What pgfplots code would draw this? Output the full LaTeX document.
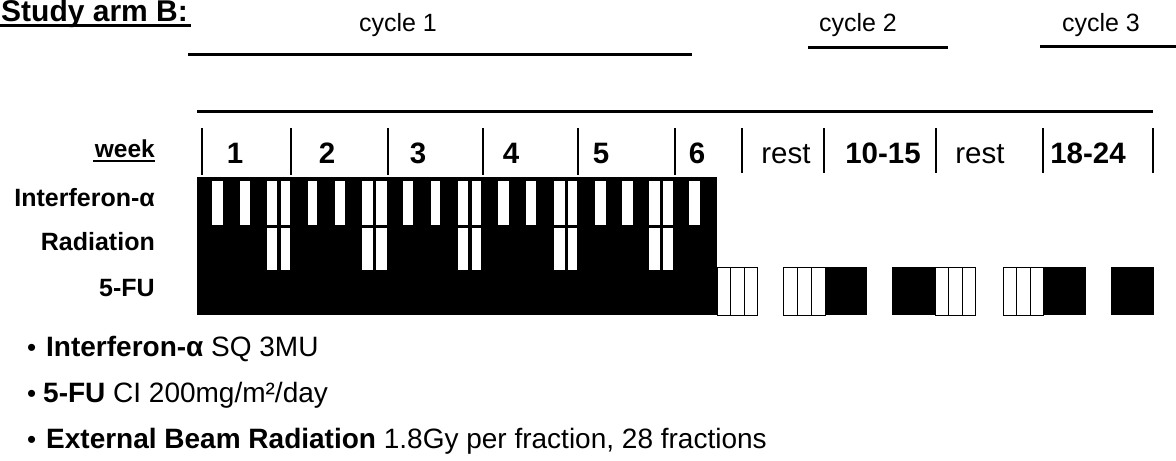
\documentclass[border=0pt]{standalone}
\usepackage{pgfplots}
\pgfplotsset{compat=1.18}
\usepackage{fontspec}
\setmainfont{Liberation Sans}
\newcommand{\fs}[1]{\fontsize{#1bp}{#1bp}\selectfont}
% white box with black outline / black box, in pixel coordinates of the axis
\newcommand{\wb}[4]{\addplot[fill=white, draw=black, line width=1bp] coordinates {(#1,#3) (#2,#3) (#2,#4) (#1,#4)} -- cycle;}
\newcommand{\bb}[4]{\addplot[fill=black, draw=none] coordinates {(#1,#3) (#2,#3) (#2,#4) (#1,#4)} -- cycle;}
\newcommand{\hl}[4]{\addplot[line width=#4bp] coordinates {(#1,#3) (#2,#3)};}
\newcommand{\vl}[3]{\addplot[line width=2bp] coordinates {(#1,#2) (#1,#3)};}
\begin{document}
\begin{tikzpicture}
\begin{axis}[name=ax, at={(0,0)}, anchor=south west, scale only axis,
  width=1176bp, height=461bp, xmin=0, xmax=1176, ymin=0, ymax=461,
  y dir=reverse, hide axis, clip=false]
% title
\node[anchor=base west, inner sep=0] at (axis cs:1,22) {\fs{30}\bfseries Study arm B:};
\hl{0}{191}{26}{3}
% cycles
\node[anchor=base, inner sep=0] at (axis cs:398,32) {\fs{25}cycle 1};
\node[anchor=base, inner sep=0] at (axis cs:858,32) {\fs{25}cycle 2};
\node[anchor=base, inner sep=0] at (axis cs:1101,32) {\fs{25}cycle 3};
\hl{188}{692}{55}{3}
\hl{808}{948}{48}{3}
\hl{1040}{1176}{47}{3}
\hl{197}{1153}{112}{3}
% week row
\node[anchor=base east, inner sep=0] at (axis cs:155,157) {\fs{24.5}\bfseries week};
\hl{93}{155}{161}{2.5}
\vl{202}{128}{175}
\vl{291}{128}{175}
\vl{388}{128}{175}
\vl{483}{128}{175}
\vl{578}{128}{175}
\vl{675}{128}{175}
\vl{742}{128}{173}
\vl{824}{128}{173}
\vl{936}{128}{173}
\vl{1043}{128}{173}
\vl{1153}{128}{173}
\node[anchor=base, inner sep=0] at (axis cs:235,163) {\fs{29.5}\bfseries 1};
\node[anchor=base, inner sep=0] at (axis cs:327,163) {\fs{29.5}\bfseries 2};
\node[anchor=base, inner sep=0] at (axis cs:418,163) {\fs{29.5}\bfseries 3};
\node[anchor=base, inner sep=0] at (axis cs:511,163) {\fs{29.5}\bfseries 4};
\node[anchor=base, inner sep=0] at (axis cs:601,163) {\fs{29.5}\bfseries 5};
\node[anchor=base, inner sep=0] at (axis cs:697,163) {\fs{29.5}\bfseries 6};
\node[anchor=base, inner sep=0] at (axis cs:786,163) {\fs{29.5}rest};
\node[anchor=base, inner sep=0] at (axis cs:883,163) {\fs{29.5}\bfseries 10-15};
\node[anchor=base, inner sep=0] at (axis cs:980,163) {\fs{29.5}rest};
\node[anchor=base, inner sep=0] at (axis cs:1088,163) {\fs{29.5}\bfseries 18-24};
% row labels
\node[anchor=base east, inner sep=0] at (axis cs:155,206) {\fs{25}\bfseries Interferon-α};
\node[anchor=base east, inner sep=0] at (axis cs:155,250) {\fs{25}\bfseries Radiation};
\node[anchor=base east, inner sep=0] at (axis cs:155,296) {\fs{25}\bfseries 5-FU};
% cycle 1 treatment block
\bb{197}{717}{177}{315}
% interferon-only gaps
\wb{211}{223}{180}{225}
\wb{239}{250}{180}{225}
\wb{307}{317}{180}{225}
\wb{334}{345}{180}{225}
\wb{402}{413}{180}{225}
\wb{430}{440}{180}{225}
\wb{497}{509}{180}{225}
\wb{525}{536}{180}{225}
\wb{594}{606}{180}{225}
\wb{621}{633}{180}{225}
\wb{688}{700}{180}{225}
% weekend gaps (interferon and radiation)
\wb{266}{277}{180}{225} \wb{266}{277}{227}{270}
\wb{280}{290}{180}{225} \wb{280}{290}{227}{270}
\wb{361}{373}{180}{225} \wb{361}{373}{227}{270}
\wb{375}{387}{180}{225} \wb{375}{387}{227}{270}
\wb{457}{468}{180}{225} \wb{457}{468}{227}{270}
\wb{471}{481}{180}{225} \wb{471}{481}{227}{270}
\wb{553}{565}{180}{225} \wb{553}{565}{227}{270}
\wb{567}{577}{180}{225} \wb{567}{577}{227}{270}
\wb{648}{660}{180}{225} \wb{648}{660}{227}{270}
\wb{662}{673}{180}{225} \wb{662}{673}{227}{270}
% 5-FU in later cycles
\wb{717}{730}{267}{315} \wb{730}{744}{267}{315} \wb{744}{757}{267}{315}
\wb{783}{797}{267}{315} \wb{797}{811}{267}{315} \wb{811}{825}{267}{315}
\bb{825}{867}{267}{315}
\bb{892}{935}{267}{315}
\wb{935}{948}{267}{315} \wb{948}{962}{267}{315} \wb{962}{975}{267}{315}
\wb{1003}{1016}{267}{315} \wb{1016}{1030}{267}{315} \wb{1030}{1043}{267}{315}
\bb{1043}{1086}{267}{315}
\bb{1111}{1154}{267}{315}
% notes
\node[anchor=base west, inner sep=0] at (axis cs:27,356) {\fs{26}•};
\node[anchor=base west, inner sep=0] at (axis cs:46,356) {\fs{28}\textbf{Interferon-α} SQ 3MU};
\node[anchor=base west, inner sep=0] at (axis cs:27,402) {\fs{26}•};
\node[anchor=base west, inner sep=0] at (axis cs:43,402) {\fs{28}\textbf{5-FU} CI 200mg/m²/day};
\node[anchor=base west, inner sep=0] at (axis cs:27,448) {\fs{26}•};
\node[anchor=base west, inner sep=0] at (axis cs:46,448) {\fs{28}\textbf{External Beam Radiation} 1.8Gy per fraction, 28 fractions};
\end{axis}
\pgfresetboundingbox
\path[use as bounding box] (0,0) rectangle (1176bp,461bp);
\end{tikzpicture}
\end{document}
